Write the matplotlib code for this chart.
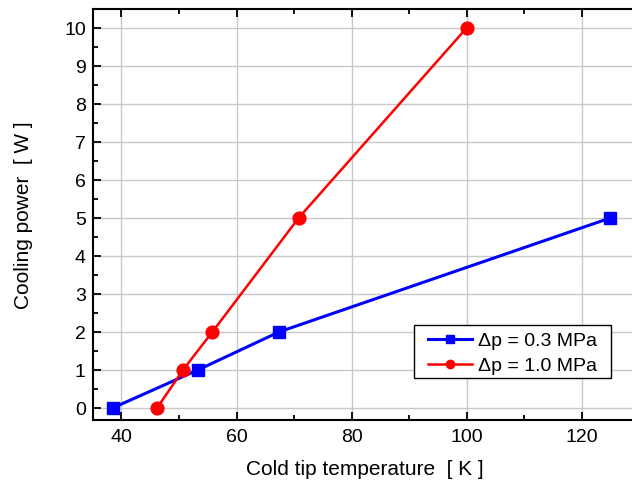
import matplotlib
matplotlib.use("Agg")
import matplotlib.pyplot as plt
from matplotlib.ticker import MultipleLocator
from matplotlib.patches import Rectangle

plt.rcParams['font.family'] = ['Liberation Sans', 'DejaVu Sans']

x_low = [38.5, 53.3, 67.4, 125.0]
y_low = [0, 1, 2, 5]
x_high = [46.2, 50.7, 55.8, 70.8, 100.0]
y_high = [0, 1, 2, 5, 10]
label_low = "Δp = 0.3 MPa"
label_high = "Δp = 1.0 MPa"

fig = plt.figure(figsize=(6.32, 4.89), dpi=100)
ax = fig.add_axes([0.1467, 0.1397, 0.861, 0.8399])

ax.plot(x_low, y_low, color='#0000ff', lw=2.2, marker='s', ms=8.5, label=label_low)
ax.plot(x_high, y_high, color='#ff0000', lw=1.8, marker='o', ms=9.2, label=label_high)

ax.set_xlim(35.0, 129.6)
ax.set_ylim(-0.31, 10.5)
ax.xaxis.set_major_locator(MultipleLocator(20))
ax.xaxis.set_minor_locator(MultipleLocator(10))
ax.yaxis.set_major_locator(MultipleLocator(1))
ax.yaxis.set_minor_locator(MultipleLocator(0.5))
ax.grid(True, which='major', color='#c8c8c8', lw=1.0)
ax.set_axisbelow(True)
ax.tick_params(which='both', direction='in', top=True, right=False, labelsize=14, width=1.3)
ax.tick_params(which='major', length=5.5)
ax.tick_params(which='minor', length=3.5)
ax.tick_params(axis='x', pad=6)
ax.tick_params(axis='y', pad=5)
for s in ax.spines.values():
    s.set_linewidth(1.5)

ax.set_xlabel("Cold tip temperature  [ K ]", fontsize=15, labelpad=10)
ax.set_ylabel("Cooling power  [ W ]", fontsize=15, labelpad=22)

# legend frame drawn separately (wider horizontal padding than vertical)
frame = Rectangle((0.591, 0.1015), 0.9518 - 0.591, 0.2313 - 0.1015,
                  transform=ax.transAxes, facecolor='white', edgecolor='black',
                  lw=1.0, zorder=4)
ax.add_patch(frame)

leg = ax.legend(loc='center', bbox_to_anchor=(0.7714, 0.1619), borderaxespad=0,
                fontsize=14, frameon=False,
                handlelength=2.3, handletextpad=0.3, borderpad=0.2, labelspacing=0.38)
leg.set_zorder(5)
leg.legend_handles[0].set_markersize(5.5)
leg.legend_handles[1].set_markersize(6.0)

fig.savefig("out.png", dpi=100)
